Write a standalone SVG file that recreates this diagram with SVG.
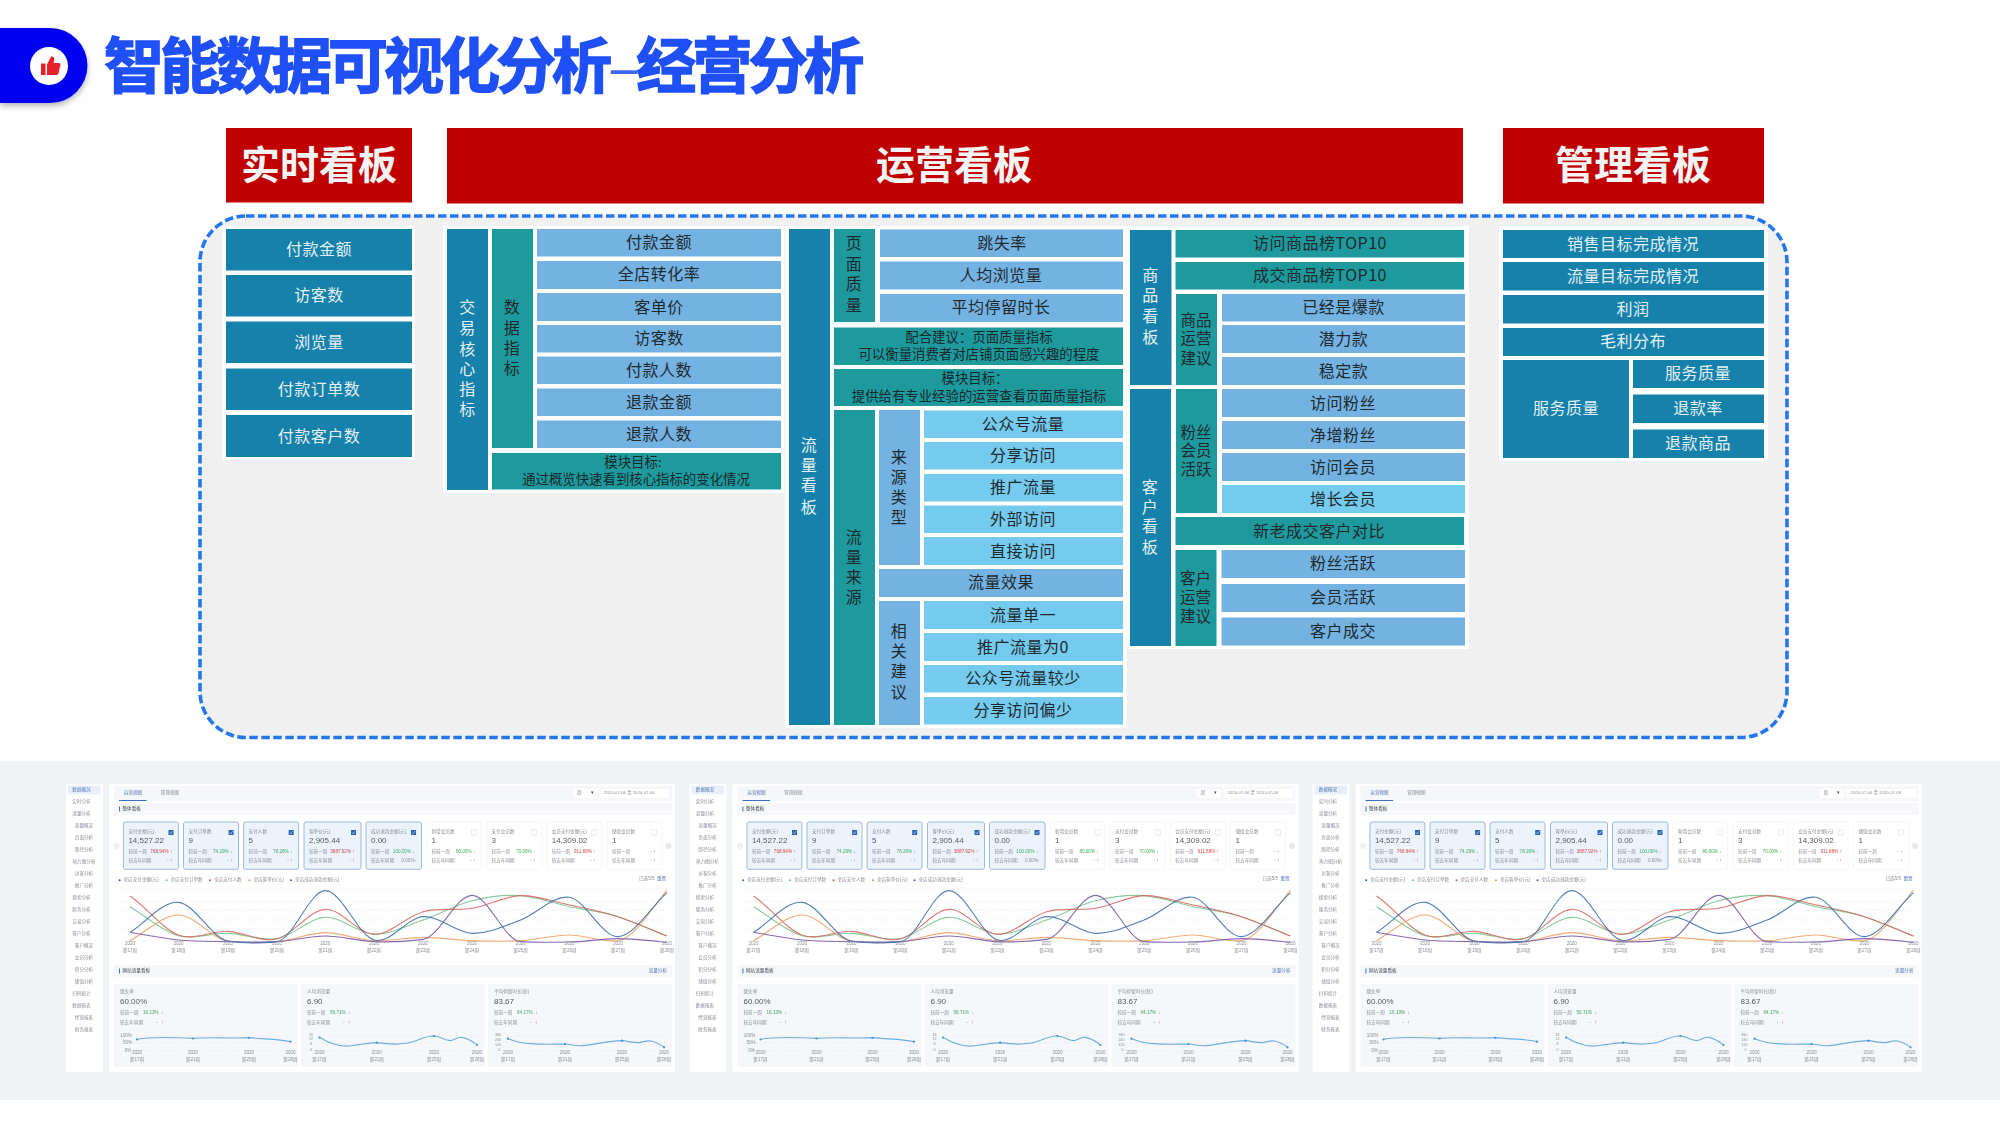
<svg xmlns="http://www.w3.org/2000/svg" xmlns:xlink="http://www.w3.org/1999/xlink" width="2000" height="1125" viewBox="0 0 2000 1125">
<style>
text{font-family:"Noto Sans CJK SC","Liberation Sans",sans-serif;text-anchor:middle;dominant-baseline:central}
.b{fill:#1681aa}.g{fill:#1e9a9d}.l{fill:#74b2e2}.s{fill:#75cbee}.r{fill:#c00000}.p{fill:#fff}
.hd{font-size:39px;font-weight:700;fill:#f4f4f4;transform:translateY(-2.5px)}
.w{font-size:16px;fill:#e4f0f5;letter-spacing:.5px;transform:translateY(-1.3px)}
.d{font-size:16px;fill:#1c2a30;letter-spacing:.5px;transform:translateY(-1.3px)}
.n{font-size:13.4px;fill:#14292c;transform:translateY(-1.2px)}
.o text{text-anchor:start;font-size:4.6px;fill:#8a8f98;font-family:"Liberation Sans","Noto Sans CJK SC",sans-serif;transform:translateY(-.7px)}
.o .m{text-anchor:middle}
.o .e{text-anchor:end}
.o .v{font-size:8px;fill:#555b63}
.o .u{fill:#5b77b5}.o .k{fill:#444a52}
.o .R{fill:#d0473f}.o .G{fill:#3fa860}
.cv{fill:none;stroke-width:1.1;vector-effect:non-scaling-stroke;opacity:.9}
.gl{stroke:#e4e6ea;stroke-width:.6;stroke-dasharray:1.5 1.5}
.card{fill:#edf3fc;stroke:#85a9d2;stroke-width:.8}
.card0{fill:#fff;stroke:#eef0f3;stroke-width:.6}
.bar{fill:#f5f7fa}
</style>
<defs>
<filter id="blur" x="-2%" y="-2%" width="104%" height="104%"><feGaussianBlur stdDeviation=".4"/></filter>
<filter id="sh" x="-20%" y="-20%" width="150%" height="150%"><feDropShadow dx="0" dy="3" stdDeviation="3" flood-color="#000" flood-opacity=".3"/></filter>
<g id="cb1"><rect width="5" height="5" fill="#2a62b6"/><path d="M1 2.6 2.2 3.8 4 1.2" fill="none" stroke="#fff" stroke-width=".6"/></g>
<rect id="cb0" width="5" height="5" fill="#fff" stroke="#d5d7db" stroke-width=".5"/>
<g id="shot" class="o" filter="url(#blur)">
<rect x="66" y="784" width="37" height="288" fill="#fff"/>
<rect x="109" y="784" width="566" height="288" fill="#fff"/>
<rect x="68" y="785.7" width="32.6" height="8.6" fill="#e8effa"/>
<g>
<text class="m u" x="81.5" y="790">数据概况</text><text class="m" x="81.5" y="802">实时分析</text><text class="m" x="81.5" y="814">流量分析</text>
<text class="m" x="84" y="826">流量概况</text><text class="m" x="84" y="838">页面分析</text><text class="m" x="84" y="850">路径分析</text><text class="m" x="84" y="862">热力图分析</text><text class="m" x="84" y="874">访客分析</text><text class="m" x="84" y="886">推广分析</text>
<text class="m" x="81.5" y="898">搜索分析</text><text class="m" x="81.5" y="910">服务分析</text><text class="m" x="81.5" y="922">交易分析</text><text class="m" x="81.5" y="934">客户分析</text>
<text class="m" x="84" y="946">客户概况</text><text class="m" x="84" y="958">会员分析</text><text class="m" x="84" y="970">积分分析</text><text class="m" x="84" y="982">储值分析</text>
<text class="m" x="81.5" y="994">扫码统计</text><text class="m" x="81.5" y="1006">数据报表</text><text class="m" x="84" y="1018">经营报表</text><text class="m" x="84" y="1030">财务报表</text>
</g>
<rect class="bar" x="114" y="786" width="558" height="14.7"/>
<rect x="119" y="800" width="27.6" height="1" fill="#3b6fc0"/>
<text class="m u" x="133" y="793">运营视图</text><text class="m" x="170" y="793">管理视图</text>
<rect x="573.6" y="789" width="23.4" height="9" fill="#fff"/><text x="577" y="793.5">周</text><text class="m k" x="592" y="793.5">▾</text>
<rect x="600.6" y="789" width="68.8" height="9" fill="#fff"/><text x="604" y="793.5" style="font-size:4.3px">2020-07-06 至 2020-07-06</text>
<rect class="bar" x="114" y="803" width="558" height="12"/><rect x="119" y="806.5" width=".9" height="5" fill="#2a62b6"/><text class="k" x="122.5" y="809">整体看板</text>

<rect class="card" x="123.4" y="822" width="55" height="47.3" rx="2"/><use xlink:href="#cb1" x="168.5" y="830"/><text x="128.4" y="832.3">支付金额(元)</text><text class="v" x="128.4" y="841">14,527.22</text><text x="128.4" y="852.7">较前一周</text><text class="e R" x="168.5" y="852.7">768.94%</text><text class="R" x="170" y="852.7">↑</text><text x="128.4" y="861.7">较去年同期</text><text class="e" x="168.5" y="861.7">-</text><text class="R" x="170" y="861.7">↑</text>
<rect class="card" x="183.5" y="822" width="55" height="47.3" rx="2"/><use xlink:href="#cb1" x="228.6" y="830"/><text x="188.5" y="832.3">支付订单数</text><text class="v" x="188.5" y="841">9</text><text x="188.5" y="852.7">较前一周</text><text class="e G" x="228.6" y="852.7">74.29%</text><text class="G" x="230" y="852.7">↓</text><text x="188.5" y="861.7">较去年同期</text><text class="e" x="228.6" y="861.7">-</text><text class="R" x="230" y="861.7">↑</text>
<rect class="card" x="243.6" y="822" width="55" height="47.3" rx="2"/><use xlink:href="#cb1" x="288.7" y="830"/><text x="248.6" y="832.3">支付人数</text><text class="v" x="248.6" y="841">5</text><text x="248.6" y="852.7">较前一周</text><text class="e G" x="288.7" y="852.7">78.26%</text><text class="G" x="290" y="852.7">↓</text><text x="248.6" y="861.7">较去年同期</text><text class="e" x="288.7" y="861.7">-</text><text class="R" x="290" y="861.7">↑</text>
<rect class="card" x="304" y="822" width="57" height="47.3" rx="2"/><use xlink:href="#cb1" x="351" y="830"/><text x="309" y="832.3">客单价(元)</text><text class="v" x="309" y="841">2,905.44</text><text x="309" y="852.7">较前一周</text><text class="e R" x="351" y="852.7">3887.92%</text><text class="R" x="352.5" y="852.7">↑</text><text x="309" y="861.7">较去年同期</text><text class="e" x="351" y="861.7">-</text><text class="R" x="352.5" y="861.7">↑</text>
<rect class="card" x="366" y="822" width="55.5" height="47.3" rx="2"/><use xlink:href="#cb1" x="411" y="830"/><text x="371" y="832.3">成功退款金额(元)</text><text class="v" x="371" y="841">0.00</text><text x="371" y="852.7">较前一周</text><text class="e G" x="411" y="852.7">100.00%</text><text class="G" x="412.5" y="852.7">↓</text><text x="371" y="861.7">较去年同期</text><text class="e" x="416" y="861.7">0.00%-</text>
<rect class="card0" x="426.5" y="822" width="54.5" height="47.3" rx="2"/><use xlink:href="#cb0" x="471.5" y="830"/><text x="431.5" y="832.3">新增会员数</text><text class="v" x="431.5" y="841">1</text><text x="431.5" y="852.7">较前一周</text><text class="e G" x="471.5" y="852.7">80.00%</text><text class="G" x="473" y="852.7">↓</text><text x="431.5" y="861.7">较去年同期</text><text class="e" x="471.5" y="861.7">-</text><text class="R" x="473" y="861.7">↑</text>
<rect class="card0" x="486.6" y="822" width="55" height="47.3" rx="2"/><use xlink:href="#cb0" x="531.7" y="830"/><text x="491.6" y="832.3">支付会员数</text><text class="v" x="491.6" y="841">3</text><text x="491.6" y="852.7">较前一周</text><text class="e G" x="531.7" y="852.7">70.00%</text><text class="G" x="533" y="852.7">↓</text><text x="491.6" y="861.7">较去年同期</text><text class="e" x="531.7" y="861.7">-</text><text class="R" x="533" y="861.7">↑</text>
<rect class="card0" x="546.7" y="822" width="55" height="47.3" rx="2"/><use xlink:href="#cb0" x="591.8" y="830"/><text x="551.7" y="832.3">会员支付金额(元)</text><text class="v" x="551.7" y="841">14,309.02</text><text x="551.7" y="852.7">较前一周</text><text class="e R" x="591.8" y="852.7">911.88%</text><text class="R" x="593" y="852.7">↑</text><text x="551.7" y="861.7">较去年同期</text><text class="e" x="591.8" y="861.7">-</text><text class="R" x="593" y="861.7">↑</text>
<rect class="card0" x="607" y="822" width="55" height="47.3" rx="2"/><use xlink:href="#cb0" x="652" y="830"/><text x="612" y="832.3">储值会员数</text><text class="v" x="612" y="841">1</text><text x="612" y="852.7">较前一周</text><text class="e" x="652" y="852.7">-</text><text class="R" x="653.5" y="852.7">↑</text><text x="612" y="861.7">较去年同期</text><text class="e" x="652" y="861.7">-</text><text class="R" x="653.5" y="861.7">↑</text>
<circle cx="116.5" cy="846" r="3" fill="#eef0f3"/><circle cx="668.5" cy="846" r="3" fill="#e6e8ec"/>

<circle cx="119.6" cy="880.3" r="1" fill="#2a62b6"/><text x="123.5" y="880.3">全店支付金额(元)</text>
<circle cx="166.5" cy="880.3" r="1" fill="#6cc08a"/><text x="170.5" y="880.3">全店支付订单数</text>
<circle cx="210" cy="880.3" r="1" fill="#d9534a"/><text x="214" y="880.3">全店支付人数</text>
<circle cx="249.4" cy="880.3" r="1" fill="#f2963e"/><text x="253.4" y="880.3">全店客单价(元)</text>
<circle cx="291" cy="880.3" r="1" fill="#6a4aa0"/><text x="295" y="880.3">全店成功退款金额(元)</text>
<text x="639" y="879">已选5/5</text><text class="u" x="657" y="879">重置</text>

<path class="gl" d="M119 889H668M119 901H668M119 910H668M119 920H668M119 929H668M119 941H668"/>
<g transform="translate(50,770) scale(.41459,.33333)">
<path class="cv" stroke="#7cc596" d="M193,410 C232,439 271,484 310,497 S390,488 429,490 S508,514 547,506 S625,444 664,442 S743,491 782,492 S861,467 900,450 S979,404 1018,392 S1096,374 1135,377 S1214,400 1253,410 S1331,425 1370,440 S1449,479 1488,498"/>
<path class="cv" stroke="#d96a60" d="M193,378 C232,410 271,477 310,495 S390,482 429,484 S508,518 547,507 S625,420 664,418 S743,492 782,493 S861,438 900,425 S979,423 1018,415 S1096,379 1135,377 S1214,395 1253,405 S1331,424 1370,440 S1449,479 1488,498"/>
<path class="cv" stroke="#f2a365" d="M193,512 C232,486 271,435 310,435 S390,507 429,513 S508,519 547,515 S625,488 664,488 S743,510 782,512 S861,502 900,502 S979,510 1018,512 S1096,515 1135,512 S1214,495 1253,495 S1331,518 1370,512 S1449,420 1488,360"/>
<path class="cv" stroke="#7a5aa8" d="M193,487 C232,495 271,505 310,510 S390,514 429,515 S508,518 547,515 S625,498 664,498 S743,513 782,515 S861,514 900,508 S979,376 1018,376 S1096,512 1135,515 S1214,517 1253,516 S1331,506 1370,506 S1449,512 1488,517"/>
<path class="cv" stroke="#3f6fb5" d="M193,487 C232,457 271,393 310,397 S390,505 429,513 S508,520 547,515 S625,363 664,362 S743,497 782,510 S861,443 900,440 S979,488 1018,490 S1096,468 1135,450 S1214,374 1253,382 S1331,502 1370,500 S1449,412 1488,368"/>
</g>
<g>
<text class="m" x="130" y="944.7">2020</text><text class="m" x="130" y="951.3">第17周</text><text class="m" x="178.5" y="944.7">2020</text><text class="m" x="178.5" y="951.3">第18周</text><text class="m" x="228" y="944.7">2020</text><text class="m" x="228" y="951.3">第19周</text><text class="m" x="277" y="944.7">2020</text><text class="m" x="277" y="951.3">第20周</text><text class="m" x="325.3" y="944.7">2020</text><text class="m" x="325.3" y="951.3">第21周</text><text class="m" x="374" y="944.7">2020</text><text class="m" x="374" y="951.3">第22周</text><text class="m" x="423" y="944.7">2020</text><text class="m" x="423" y="951.3">第23周</text><text class="m" x="472" y="944.7">2020</text><text class="m" x="472" y="951.3">第24周</text><text class="m" x="520.7" y="944.7">2020</text><text class="m" x="520.7" y="951.3">第25周</text><text class="m" x="569.5" y="944.7">2020</text><text class="m" x="569.5" y="951.3">第26周</text><text class="m" x="618" y="944.7">2020</text><text class="m" x="618" y="951.3">第27周</text><text class="m" x="667" y="944.7">2020</text><text class="m" x="667" y="951.3">第28周</text>
</g>
<rect class="bar" x="114" y="965" width="558" height="11.7"/><rect x="119" y="968.5" width=".9" height="5" fill="#2a62b6"/><text class="k" x="122.5" y="970.8">网站流量看板</text><text class="e u" x="667" y="970.8">流量分析</text>

<rect class="bar" x="114" y="984" width="184" height="83"/><rect class="bar" x="301" y="984" width="184" height="83"/><rect class="bar" x="488" y="984" width="184" height="83"/>
<g transform="translate(114,0)"><text x="6" y="992.7">跳失率</text><text class="v" x="6" y="1002">60.00%</text><text x="6" y="1013.7">较前一周</text><text class="G" x="29" y="1013.7">16.13%</text><text class="G" x="47" y="1013.7">↓</text><text x="6" y="1023.3">较去年同期</text><text x="42" y="1023.3">-</text><text class="R" x="47" y="1023.3">↑</text></g>
<g transform="translate(301,0)"><text x="6" y="992.7">人均浏览量</text><text class="v" x="6" y="1002">6.90</text><text x="6" y="1013.7">较前一周</text><text class="G" x="29" y="1013.7">56.71%</text><text class="G" x="47" y="1013.7">↓</text><text x="6" y="1023.3">较去年同期</text><text x="42" y="1023.3">-</text><text class="R" x="47" y="1023.3">↑</text></g>
<g transform="translate(488,0)"><text x="6" y="992.7">平均停留时长(秒)</text><text class="v" x="6" y="1002">83.67</text><text x="6" y="1013.7">较前一周</text><text class="G" x="29" y="1013.7">64.17%</text><text class="G" x="47" y="1013.7">↓</text><text x="6" y="1023.3">较去年同期</text><text x="42" y="1023.3">-</text><text class="R" x="47" y="1023.3">↑</text></g>
<path class="gl" d="M133 1036H292M133 1043H292M133 1051H292M320 1036H480M320 1043H480M320 1051H480M507 1036H667M507 1043H667M507 1051H667"/>
<g transform="translate(50,770) scale(.41459,.33333)" fill="none">
<path class="cv" stroke="#5ea5dd" d="M210,808 C240,800 300,802 345,805 C385,801 430,806 480,803 C520,808 550,806 580,815"/>
<path class="cv" stroke="#5ea5dd" d="M650,802 C680,825 700,830 720,828 C745,826 765,818 788,818 C810,822 840,824 860,820 C885,815 905,796 926,798 C945,800 950,812 965,812 C975,812 980,801 992,802 C1010,804 1020,815 1030,825"/>
<path class="cv" stroke="#5ea5dd" d="M1105,806 C1125,816 1140,820 1160,821 C1190,824 1215,822 1242,822 C1260,824 1270,829 1285,827 C1320,822 1350,812 1380,812 C1395,814 1405,818 1420,818 C1430,816 1440,811 1450,813 C1465,816 1472,825 1482,832"/>
</g>
<g fill="#3f8fd6"><circle cx="137" cy="1039.5" r="1.1"/><circle cx="193" cy="1038.5" r="1.1"/><circle cx="249" cy="1037.8" r="1.1"/><circle cx="290.5" cy="1041.7" r="1.1"/><circle cx="319.5" cy="1037.5" r="1.1"/><circle cx="376.7" cy="1042.7" r="1.1"/><circle cx="434" cy="1036" r="1.1"/><circle cx="477" cy="1045" r="1.1"/><circle cx="508" cy="1038.7" r="1.1"/><circle cx="565" cy="1044" r="1.1"/><circle cx="622" cy="1040.7" r="1.1"/><circle cx="664" cy="1047.3" r="1.1"/></g>
<g>
<text class="m" x="126" y="1036">100%</text><text class="m" x="127.5" y="1043">50%</text><text class="m" x="128" y="1051">0%</text>
<text class="m" x="137" y="1053.7">2020</text><text class="m" x="137" y="1060.3">第17周</text><text class="m" x="193" y="1053.7">2020</text><text class="m" x="193" y="1060.3">第21周</text><text class="m" x="249" y="1053.7">2020</text><text class="m" x="249" y="1060.3">第25周</text><text class="m" x="290.5" y="1053.7">2020</text><text class="m" x="290.5" y="1060.3">第28周</text>
<text class="m" x="311" y="1035.5" style="font-size:3.6px">16</text><text class="m" x="311" y="1040" style="font-size:3.6px">12</text><text class="m" x="311" y="1045" style="font-size:3.6px">8</text><text class="m" x="311" y="1050.5" style="font-size:3.6px">0</text>
<text class="m" x="319.5" y="1053.7">2020</text><text class="m" x="319.5" y="1060.3">第17周</text><text class="m" x="376.7" y="1053.7">2020</text><text class="m" x="376.7" y="1060.3">第21周</text><text class="m" x="434" y="1053.7">2020</text><text class="m" x="434" y="1060.3">第25周</text><text class="m" x="477" y="1053.7">2020</text><text class="m" x="477" y="1060.3">第28周</text>
<text class="m" x="498" y="1035.5" style="font-size:3.6px">360</text><text class="m" x="498" y="1040.5" style="font-size:3.6px">240</text><text class="m" x="498" y="1045.5" style="font-size:3.6px">120</text><text class="m" x="499" y="1050.5" style="font-size:3.6px">0</text>
<text class="m" x="508" y="1053.7">2020</text><text class="m" x="508" y="1060.3">第17周</text><text class="m" x="565" y="1053.7">2020</text><text class="m" x="565" y="1060.3">第21周</text><text class="m" x="622" y="1053.7">2020</text><text class="m" x="622" y="1060.3">第25周</text><text class="m" x="664" y="1053.7">2020</text><text class="m" x="664" y="1060.3">第28周</text>
</g>
</g>
</defs>

<rect width="2000" height="1125" fill="#fff"/>

<g id="title">
<path d="M0 28H50A37.5 37.5 0 0 1 50 103H0Z" fill="#0000f0" filter="url(#sh)"/>
<circle cx="49" cy="66" r="19" fill="#fff"/>
<path d="M41 63.5h4.5V75H41ZM47 64.5 51 56.5c2-.5 3.5 .8 3.2 3L53.6 63H59c1.2 0 1.6 1 1.4 2L58.4 73.6C58.1 74.6 57.4 75 56.4 75H47Z" fill="#e8202a"/>
<text x="104" y="61.5" style="text-anchor:start;font-size:60px;font-weight:700;fill:#1f50f5;stroke:#1f50f5;stroke-width:1.5;letter-spacing:-4px">智能数据可视化分析<tspan style="font-weight:400;stroke:none;fill:#3d66ee">–</tspan>经营分析</text>
</g>

<g id="hd-realtime"><rect class="r" x="226" y="128" width="186" height="74.5"/><text class="hd" x="319" y="164.5">实时看板</text></g>
<g id="hd-ops"><rect class="r" x="447" y="128" width="1016" height="75.5"/><text class="hd" x="954" y="164.5">运营看板</text></g>
<g id="hd-mgmt"><rect class="r" x="1503" y="128" width="261" height="75.5"/><text class="hd" x="1633" y="164.5">管理看板</text></g>

<rect id="frame" x="200" y="216" width="1587" height="521.5" rx="46" fill="#f0f0f0" stroke="#2277ee" stroke-width="3.6" stroke-dasharray="8.5 3.5"/>

<g id="panel-realtime">
<rect class="p" x="222.5" y="226" width="192.5" height="234"/>
<g id="rt1"><rect class="b" x="226" y="229" width="186" height="41.5"/><text class="w" x="319" y="249.5">付款金额</text></g>
<g id="rt2"><rect class="b" x="226" y="275" width="186" height="41.5"/><text class="w" x="319" y="295.5">访客数</text></g>
<g id="rt3"><rect class="b" x="226" y="321.5" width="186" height="41.5"/><text class="w" x="319" y="342">浏览量</text></g>
<g id="rt4"><rect class="b" x="226" y="368.5" width="186" height="41.5"/><text class="w" x="319" y="389">付款订单数</text></g>
<g id="rt5"><rect class="b" x="226" y="415" width="186" height="42"/><text class="w" x="319" y="436">付款客户数</text></g>
</g>

<g id="panel-trade">
<rect class="p" x="443" y="226" width="341" height="267"/>
<g id="tr-core"><rect class="b" x="447" y="229" width="41" height="261"/><text class="w" x="467.5"><tspan x="467.5" y="307.5">交</tspan><tspan x="467.5" y="328">易</tspan><tspan x="467.5" y="349">核</tspan><tspan x="467.5" y="369">心</tspan><tspan x="467.5" y="389">指</tspan><tspan x="467.5" y="409.5">标</tspan></text></g>
<g id="tr-data"><rect class="g" x="492" y="229" width="41" height="219"/><text class="d" x="512"><tspan x="512" y="307">数</tspan><tspan x="512" y="328">据</tspan><tspan x="512" y="348">指</tspan><tspan x="512" y="368">标</tspan></text></g>
<g id="tr1"><rect class="l" x="537" y="229" width="244" height="27.5"/><text class="d" x="659" y="242.5">付款金额</text></g>
<g id="tr2"><rect class="l" x="537" y="261" width="244" height="28"/><text class="d" x="659" y="274.5">全店转化率</text></g>
<g id="tr3"><rect class="l" x="537" y="293" width="244" height="28"/><text class="d" x="659" y="307">客单价</text></g>
<g id="tr4"><rect class="l" x="537" y="325" width="244" height="27.5"/><text class="d" x="659" y="338.5">访客数</text></g>
<g id="tr5"><rect class="l" x="537" y="356.5" width="244" height="27.5"/><text class="d" x="659" y="370.5">付款人数</text></g>
<g id="tr6"><rect class="l" x="537" y="388.5" width="244" height="27.5"/><text class="d" x="659" y="402.5">退款金额</text></g>
<g id="tr7"><rect class="l" x="537" y="420.5" width="244" height="27.5"/><text class="d" x="659" y="434">退款人数</text></g>
<g id="tr-goal"><rect class="g" x="492" y="453" width="289" height="36.5"/><text class="n" x="636"><tspan x="633" y="462.5">模块目标:</tspan><tspan x="636" y="479.5">通过概览快速看到核心指标的变化情况</tspan></text></g>
</g>

<g id="panel-traffic">
<rect class="p" x="785" y="226" width="341.5" height="502"/>
<g id="tf-main"><rect class="b" x="789" y="229" width="41" height="496"/><text class="w" x="809"><tspan x="809" y="445.5">流</tspan><tspan x="809" y="465.5">量</tspan><tspan x="809" y="485.5">看</tspan><tspan x="809" y="507.5">板</tspan></text></g>
<g id="tf-page"><rect class="g" x="834" y="229" width="41" height="93"/><text class="d" x="854"><tspan x="854" y="243.5">页</tspan><tspan x="854" y="264">面</tspan><tspan x="854" y="284">质</tspan><tspan x="854" y="305">量</tspan></text></g>
<g id="tf-p1"><rect class="l" x="880" y="229.5" width="243" height="27.5"/><text class="d" x="1002" y="243">跳失率</text></g>
<g id="tf-p2"><rect class="l" x="880" y="261.5" width="243" height="28"/><text class="d" x="1001" y="275.5">人均浏览量</text></g>
<g id="tf-p3"><rect class="l" x="880" y="294" width="243" height="28"/><text class="d" x="1001" y="307.5">平均停留时长</text></g>
<g id="tf-adv"><rect class="g" x="834" y="327.5" width="289" height="37.5"/><text class="n" x="979"><tspan x="979" y="337.5">配合建议：页面质量指标</tspan><tspan x="979" y="354">可以衡量消费者对店铺页面感兴趣的程度</tspan></text></g>
<g id="tf-goal"><rect class="g" x="834" y="369" width="289" height="37"/><text class="n" x="977"><tspan x="975" y="378">模块目标：</tspan><tspan x="979" y="396.5">提供给有专业经验的运营查看页面质量指标</tspan></text></g>
<g id="tf-src"><rect class="g" x="834" y="410" width="41" height="315"/><text class="d" x="854"><tspan x="854" y="537">流</tspan><tspan x="854" y="557">量</tspan><tspan x="854" y="577">来</tspan><tspan x="854" y="597.5">源</tspan></text></g>
<g id="tf-type"><rect class="l" x="879" y="410" width="41" height="155"/><text class="d" x="899"><tspan x="899" y="457">来</tspan><tspan x="899" y="477">源</tspan><tspan x="899" y="497">类</tspan><tspan x="899" y="517.5">型</tspan></text></g>
<g id="tf-s1"><rect class="s" x="924" y="410.5" width="199" height="27.5"/><text class="d" x="1023" y="424.5">公众号流量</text></g>
<g id="tf-s2"><rect class="s" x="924" y="442" width="199" height="27.5"/><text class="d" x="1023" y="455.5">分享访问</text></g>
<g id="tf-s3"><rect class="s" x="924" y="474" width="199" height="27.5"/><text class="d" x="1023" y="487.5">推广流量</text></g>
<g id="tf-s4"><rect class="s" x="924" y="505.5" width="199" height="27.5"/><text class="d" x="1023" y="519.5">外部访问</text></g>
<g id="tf-s5"><rect class="s" x="924" y="537" width="199" height="28"/><text class="d" x="1023" y="551.5">直接访问</text></g>
<g id="tf-effect"><rect class="l" x="879" y="569" width="244" height="28"/><text class="d" x="1001" y="582.5">流量效果</text></g>
<g id="tf-sug"><rect class="l" x="879" y="601" width="41" height="124"/><text class="d" x="899"><tspan x="899" y="631.5">相</tspan><tspan x="899" y="651.5">关</tspan><tspan x="899" y="671.5">建</tspan><tspan x="899" y="692">议</tspan></text></g>
<g id="tf-a1"><rect class="s" x="924" y="601" width="199" height="28"/><text class="d" x="1023" y="615">流量单一</text></g>
<g id="tf-a2"><rect class="s" x="924" y="633" width="199" height="28"/><text class="d" x="1023" y="647">推广流量为0</text></g>
<g id="tf-a3"><rect class="s" x="924" y="665" width="199" height="27.5"/><text class="d" x="1023" y="678.5">公众号流量较少</text></g>
<g id="tf-a4"><rect class="s" x="924" y="697" width="199" height="27.5"/><text class="d" x="1023" y="710.5">分享访问偏少</text></g>
</g>

<g id="panel-goods">
<rect class="p" x="1127" y="226" width="342" height="423"/>
<g id="gd-main"><rect class="b" x="1130" y="230" width="41.5" height="155"/><text class="w" x="1150.5"><tspan x="1150.5" y="275.5">商</tspan><tspan x="1150.5" y="295.5">品</tspan><tspan x="1150.5" y="316.5">看</tspan><tspan x="1150.5" y="337.5">板</tspan></text></g>
<g id="gd-t1"><rect class="g" x="1175.5" y="230" width="288.5" height="27.5"/><text class="d" x="1320" y="243.5">访问商品榜TOP10</text></g>
<g id="gd-t2"><rect class="g" x="1175.5" y="262" width="288.5" height="27.5"/><text class="d" x="1320" y="275.5">成交商品榜TOP10</text></g>
<g id="gd-ops"><rect class="g" x="1176" y="294" width="41" height="91"/><text class="d" x="1196" style="font-size:15.5px;letter-spacing:0"><tspan x="1196" y="320">商品</tspan><tspan x="1196" y="338">运营</tspan><tspan x="1196" y="358">建议</tspan></text></g>
<g id="gd-o1"><rect class="l" x="1222" y="294" width="243" height="27.5"/><text class="d" x="1343.5" y="307.5">已经是爆款</text></g>
<g id="gd-o2"><rect class="l" x="1222" y="325" width="243" height="28"/><text class="d" x="1343.5" y="339.5">潜力款</text></g>
<g id="gd-o3"><rect class="l" x="1222" y="357" width="243" height="28"/><text class="d" x="1343.5" y="371.5">稳定款</text></g>
<g id="cu-main"><rect class="b" x="1130" y="389" width="41" height="257"/><text class="w" x="1150"><tspan x="1150" y="487">客</tspan><tspan x="1150" y="507">户</tspan><tspan x="1150" y="526">看</tspan><tspan x="1150" y="547">板</tspan></text></g>
<g id="cu-fans"><rect class="g" x="1176" y="389" width="41" height="124"/><text class="d" x="1196" style="font-size:15.5px;letter-spacing:0"><tspan x="1196" y="432">粉丝</tspan><tspan x="1196" y="450">会员</tspan><tspan x="1196" y="469">活跃</tspan></text></g>
<g id="cu-f1"><rect class="l" x="1222" y="389" width="243" height="28"/><text class="d" x="1343" y="403">访问粉丝</text></g>
<g id="cu-f2"><rect class="l" x="1222" y="421" width="243" height="28"/><text class="d" x="1343" y="435">净增粉丝</text></g>
<g id="cu-f3"><rect class="l" x="1222" y="453" width="243" height="28"/><text class="d" x="1343" y="467">访问会员</text></g>
<g id="cu-f4"><rect class="s" x="1222" y="485" width="243" height="28"/><text class="d" x="1343" y="499.5">增长会员</text></g>
<g id="cu-cmp"><rect class="g" x="1175.5" y="517" width="288.5" height="28"/><text class="d" x="1319" y="531">新老成交客户对比</text></g>
<g id="cu-ops"><rect class="g" x="1175.5" y="550" width="41" height="96"/><text class="d" x="1195.5" style="font-size:15.5px;letter-spacing:0"><tspan x="1195.5" y="578">客户</tspan><tspan x="1195.5" y="597">运营</tspan><tspan x="1195.5" y="616">建议</tspan></text></g>
<g id="cu-o1"><rect class="l" x="1221.5" y="550" width="243.5" height="28"/><text class="d" x="1343" y="563.5">粉丝活跃</text></g>
<g id="cu-o2"><rect class="l" x="1221.5" y="584" width="243.5" height="28"/><text class="d" x="1343" y="597.5">会员活跃</text></g>
<g id="cu-o3"><rect class="l" x="1221.5" y="617.5" width="243.5" height="28"/><text class="d" x="1343" y="631.5">客户成交</text></g>
</g>

<g id="panel-mgmt">
<rect class="p" x="1499" y="226" width="269" height="235"/>
<g id="mg1"><rect class="b" x="1503" y="230" width="261" height="28"/><text class="w" x="1633" y="244.5">销售目标完成情况</text></g>
<g id="mg2"><rect class="b" x="1503" y="262" width="261" height="28.5"/><text class="w" x="1633" y="276.5">流量目标完成情况</text></g>
<g id="mg3"><rect class="b" x="1503" y="295" width="261" height="28.5"/><text class="w" x="1633" y="309.5">利润</text></g>
<g id="mg4"><rect class="b" x="1503" y="328" width="261" height="28"/><text class="w" x="1633" y="341.5">毛利分布</text></g>
<g id="mg5"><rect class="b" x="1503" y="360" width="126" height="98"/><text class="w" x="1566" y="408.5">服务质量</text></g>
<g id="mg6"><rect class="b" x="1633" y="360" width="131" height="28"/><text class="w" x="1698" y="373.5">服务质量</text></g>
<g id="mg7"><rect class="b" x="1633" y="394.5" width="131" height="28.5"/><text class="w" x="1698" y="408.5">退款率</text></g>
<g id="mg8"><rect class="b" x="1633" y="429.5" width="131" height="28.5"/><text class="w" x="1698" y="443.5">退款商品</text></g>
</g>

<g id="screens">
<rect x="0" y="761" width="2000" height="339" fill="#eff3f6"/>
<use xlink:href="#shot"/>
<use xlink:href="#shot" x="623.5"/>
<use xlink:href="#shot" x="1246.5"/>
</g>
</svg>
